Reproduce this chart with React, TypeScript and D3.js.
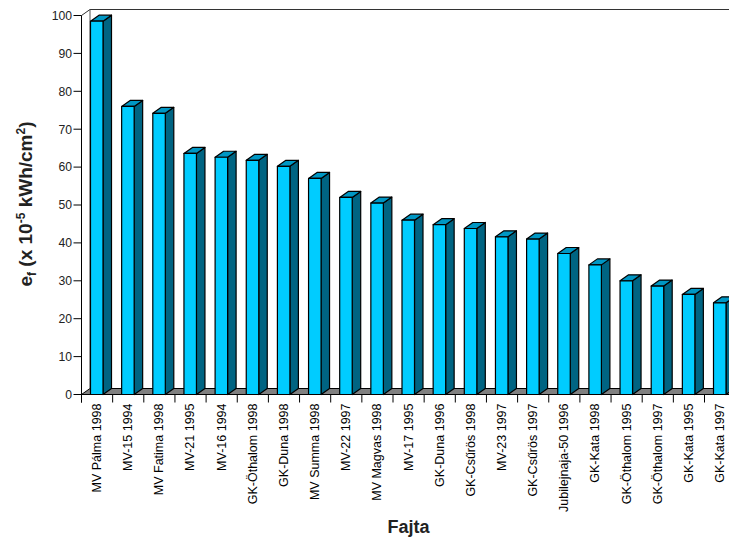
import React from "react";
import * as d3 from "d3";

const categories = ["MV Pálma 1998","MV-15 1994","MV Fatima 1998","MV-21 1995","MV-16 1994","GK-Öthalom 1998","GK-Duna 1998","MV Summa 1998","MV-22 1997","MV Magvas 1998","MV-17 1995","GK-Duna 1996","GK-Csűrös 1998","MV-23 1997","GK-Csűrös 1997","Jubilejnaja-50 1996","GK-Kata 1998","GK-Öthalom 1995","GK-Öthalom 1997","GK-Kata 1995","GK-Kata 1997"];
const values = [98.5,76,74.2,63.6,62.6,61.8,60.2,57,52,50.5,46,44.8,43.8,41.6,41,37.2,34.2,30,28.6,26.4,24.2];
const yTicks = [0,10,20,30,40,50,60,70,80,90,100];

const font = "'Liberation Sans', Arial, sans-serif";
const W = 729, H = 539;
const x0 = 81.5, y0 = 394.5, yTop = 15.5, band = 31.15;
const dx = 8.5, dy = 6, barOff = 9, barW = 12.5;

export default function App() {
  const y = d3.scaleLinear().domain([0, 100]).range([y0, yTop]);
  const x = d3.scaleBand<string>().domain(categories).range([x0, x0 + band * categories.length]);
  const line = d3.line();
  const poly = (pts: [number, number][]) => line(pts) + "Z";
  const floorEnd = W + 2;
  return (
    <svg width={W} height={H} style={{ position: "absolute", left: 0, top: 0 }} fontFamily={font}>
      <path d={poly([[x0, y0], [x0 + dx, y0 - dy], [floorEnd, y0 - dy], [floorEnd, y0]])} fill="#808080" stroke="#000" strokeWidth={1} />
      <path d={`M${x0},${yTop}L${x0 + dx},${yTop - dy}L${floorEnd},${yTop - dy}`} fill="none" stroke="#333" strokeWidth={1} />
      <line x1={x0 + dx} x2={x0 + dx} y1={yTop - dy} y2={y0 - dy} stroke="#555" strokeWidth={1} />
      {categories.map((c, i) => {
        const l = x(c)! + barOff, r = l + barW, t = y(values[i]), b = y0;
        return (
          <g key={c} stroke="#000" strokeWidth={1.2} strokeLinejoin="round">
            <path d={poly([[r, t], [r + dx, t - dy], [r + dx, b - dy], [r, b]])} fill="#006482" />
            <path d={poly([[l, t], [l + dx, t - dy], [r + dx, t - dy], [r, t]])} fill="#0097C4" />
            <rect x={l} y={t} width={barW} height={b - t} fill="#00CCFF" />
          </g>
        );
      })}
      <line x1={x0} x2={x0} y1={yTop} y2={y0 + 8} stroke="#000" />
      <line x1={x0} x2={floorEnd} y1={y0} y2={y0} stroke="#000" />
      {yTicks.map(t => (
        <g key={t}>
          <line x1={x0 - 8} x2={x0} y1={y(t)} y2={y(t)} stroke="#000" />
          <text x={x0 - 9.5} y={y(t) + 4.3} textAnchor="end" fontSize={12.2} fill="#222">{t}</text>
        </g>
      ))}
      {categories.map(c => {
        const l = x(c)!;
        return (
          <g key={c}>
            <line x1={l} x2={l} y1={y0} y2={y0 + 8} stroke="#000" />
            <text transform={`translate(${l + 19.5},403.5) rotate(-90)`} textAnchor="end" fontSize={12.5} fill="#000">{c}</text>
          </g>
        );
      })}
      <text x={408.5} y={532.5} textAnchor="middle" fontSize={18} fontWeight="bold" fill="#222">Fajta</text>
      <text transform="translate(32,204) rotate(-90)" textAnchor="middle" fontSize={19} fontWeight="bold" fill="#222">
        e<tspan fontSize={12} dy={4}>f</tspan><tspan dy={-4}> (x 10</tspan><tspan fontSize={12} dy={-7}>-5</tspan><tspan dy={7}> kWh/cm</tspan><tspan fontSize={12} dy={-7}>2</tspan><tspan dy={7}>)</tspan>
      </text>
    </svg>
  );
}
